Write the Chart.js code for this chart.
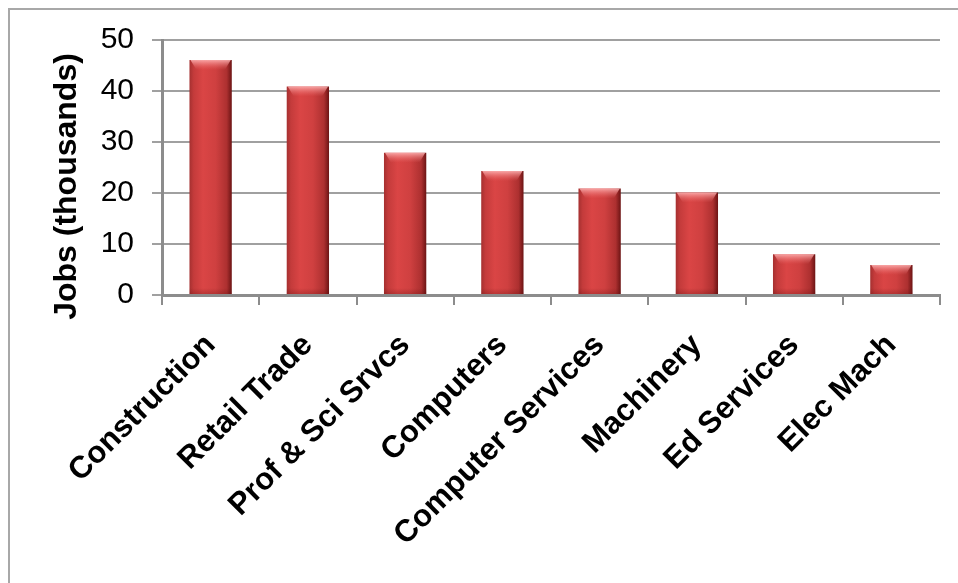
<!DOCTYPE html>
<html>
<head>
<meta charset="utf-8">
<script src="https://cdn.jsdelivr.net/npm/chart.js@4/dist/chart.umd.min.js"></script>
<style>
  html, body { margin: 0; padding: 0; background: #fff; }
  #wrap { position: relative; width: 958px; height: 583px; overflow: hidden; }
  #frame { position: absolute; left: 8px; top: 8px; right: -4px; bottom: -4px;
           border-left: 2px solid #a8a8a8; border-top: 2px solid #a8a8a8; pointer-events: none; }
</style>
</head>
<body>
<div id="wrap">
  <canvas id="c" width="958" height="583"></canvas>
  <div id="frame"></div>
</div>
<script>
// Job counts by industry, in thousands
const categories = ['Construction', 'Retail Trade', 'Prof & Sci Srvcs', 'Computers',
                    'Computer Services', 'Machinery', 'Ed Services', 'Elec Mach'];
const jobs = [46.1, 40.9, 27.9, 24.3, 20.9, 20.1, 8.0, 5.9];
const yTicks = [0, 10, 20, 30, 40, 50];
const yTitle = 'Jobs (thousands)';

const FONT = "'Liberation Sans', Arial, sans-serif";
const BAR_PCT = 0.435;

// Horizontal shading across each bar for a rounded, glossy look
function barFill(ctx) {
  const chart = ctx.chart;
  const xs = chart.scales.x;
  const flat = '#c83c3c';
  if (!xs || ctx.dataIndex === undefined) return flat;
  const cx = xs.getPixelForValue(ctx.dataIndex);
  const w = (xs.right - xs.left) / categories.length * BAR_PCT;
  if (!isFinite(cx) || !isFinite(w) || w <= 0) return flat;
  const g = chart.ctx.createLinearGradient(cx - w / 2, 0, cx + w / 2, 0);
  g.addColorStop(0.00, '#a53030');
  g.addColorStop(0.10, '#c43b3b');
  g.addColorStop(0.32, '#da4545');
  g.addColorStop(0.62, '#cf4040');
  g.addColorStop(0.88, '#ad3030');
  g.addColorStop(1.00, '#6c1414');
  return g;
}

// Bevel highlight at the top and soft shade at the foot of each bar
const barShine = {
  id: 'barShine',
  afterDatasetsDraw(chart) {
    const c = chart.ctx;
    chart.getDatasetMeta(0).data.forEach(bar => {
      const { x, y, base, width } = bar.getProps(['x', 'y', 'base', 'width'], true);
      if (![x, y, base, width].every(isFinite)) return;
      const l = x - width / 2, r = x + width / 2;
      const h = Math.min(10, (base - y) / 2);
      c.save();
      const g = c.createLinearGradient(0, y, 0, y + h);
      g.addColorStop(0, 'rgba(255,185,185,0.85)');
      g.addColorStop(1, 'rgba(240,110,110,0)');
      c.fillStyle = g;
      c.beginPath();
      c.moveTo(l + 1, y);
      c.lineTo(r - 1, y);
      c.lineTo(r - 7, y + h);
      c.lineTo(l + 7, y + h);
      c.closePath();
      c.fill();
      const hb = Math.min(6, (base - y) / 3);
      const gb = c.createLinearGradient(0, base - hb, 0, base);
      gb.addColorStop(0, 'rgba(90,10,10,0)');
      gb.addColorStop(1, 'rgba(90,10,10,0.25)');
      c.fillStyle = gb;
      c.fillRect(l, base - hb, width, hb);
      c.restore();
    });
  }
};

// Vertical axis title, set a little below the middle of the plot area
const axisTitle = {
  id: 'axisTitle',
  afterDraw(chart) {
    const { ctx, chartArea } = chart;
    ctx.save();
    ctx.translate(67, (chartArea.top + chartArea.bottom) / 2 + 19);
    ctx.rotate(-Math.PI / 2);
    ctx.font = `bold 32px ${FONT}`;
    ctx.fillStyle = '#000';
    ctx.textAlign = 'center';
    ctx.textBaseline = 'middle';
    ctx.fillText(yTitle, 0, 0);
    ctx.restore();
  }
};

new Chart(document.getElementById('c'), {
  type: 'bar',
  data: {
    labels: categories,
    datasets: [{
      data: jobs,
      backgroundColor: barFill,
      borderWidth: 0,
      barPercentage: BAR_PCT,
      categoryPercentage: 1
    }]
  },
  options: {
    responsive: false,
    animation: false,
    devicePixelRatio: 1,
    layout: { padding: { left: 0, right: 18, top: 40, bottom: 0 } },
    plugins: { legend: { display: false }, tooltip: { enabled: false } },
    scales: {
      x: {
        offset: true,
        grid: { display: true, drawOnChartArea: false, drawTicks: true, tickLength: 10,
                color: '#8c8c8c', lineWidth: 2, offset: true },
        border: { display: true, color: '#8c8c8c', width: 3 },
        ticks: { color: '#000', font: { family: FONT, size: 31, weight: 'bold' },
                 minRotation: 45, maxRotation: 45, padding: 22, autoSkip: false },
        afterFit(scale) { scale.height = 288; }
      },
      y: {
        min: 0, max: 50,
        afterBuildTicks(scale) { scale.ticks = yTicks.map(v => ({ value: v })); },
        grid: { color: '#a0a0a0', lineWidth: 2, drawTicks: true, tickLength: 10 },
        border: { display: true, color: '#8c8c8c', width: 3 },
        ticks: { color: '#000', font: { family: FONT, size: 30 }, padding: 18 },
        afterFit(scale) { scale.width = 162; }
      }
    }
  },
  plugins: [barShine, axisTitle]
});
</script>
</body>
</html>
